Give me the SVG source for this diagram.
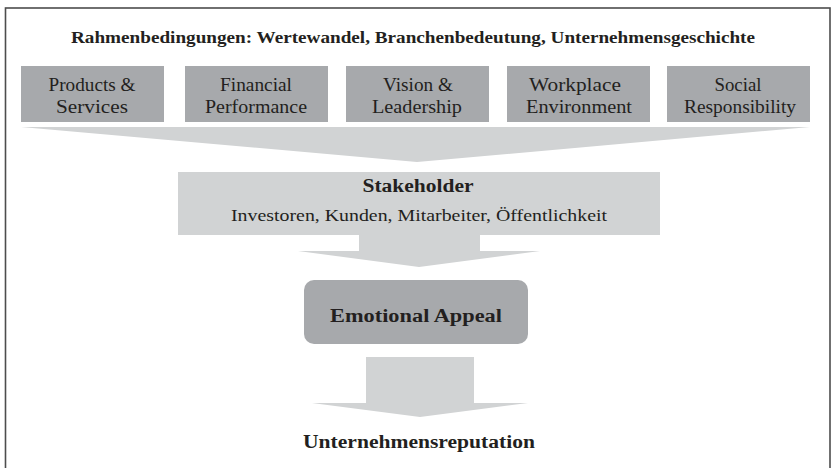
<svg xmlns="http://www.w3.org/2000/svg" width="832" height="468" viewBox="0 0 832 468">
  <style>
    .frame { fill: #ffffff; stroke: #4d4d4d; stroke-width: 1.6; }
    .card { fill: #a7a9ac; }
    .flow { fill: #d1d3d4; }
    .t { fill: #231f20; text-anchor: middle; }
    .b { font-weight: bold; }
    .lbl { font-size: 18px; }
  </style>

  <!-- outer frame (open at the bottom edge) -->
  <rect class="frame" x="5.5" y="8" width="824.5" height="470"/>

  <g font-family="Liberation Serif, DejaVu Serif, serif">
  <!-- title -->
  <text class="t b" x="413" y="43" font-size="16.5" textLength="684" lengthAdjust="spacingAndGlyphs">Rahmenbedingungen: Wertewandel, Branchenbedeutung, Unternehmensgeschichte</text>

  <!-- connectors: funnel and block arrows -->
  <g id="connectors">
    <polygon class="flow" points="21,127 810,127 417,162"/>
    <polygon class="flow" points="359,235 480,235 480,251 540,251 419,267 298,251 359,251"/>
    <polygon class="flow" points="366,357 474,357 474,403 528,403 420,417 312,403 366,403"/>
  </g>

  <!-- reputation drivers -->
  <g id="products">
    <rect class="card" x="21" y="66" width="143" height="56"/>
    <text class="t lbl" x="92" y="91" textLength="87" lengthAdjust="spacingAndGlyphs">Products &amp;</text>
    <text class="t lbl" x="92" y="113" textLength="72" lengthAdjust="spacingAndGlyphs">Services</text>
  </g>
  <g id="financial">
    <rect class="card" x="185" y="66" width="143" height="56"/>
    <text class="t lbl" x="256" y="91" textLength="72" lengthAdjust="spacingAndGlyphs">Financial</text>
    <text class="t lbl" x="256" y="113" textLength="102" lengthAdjust="spacingAndGlyphs">Performance</text>
  </g>
  <g id="vision">
    <rect class="card" x="346" y="66" width="143" height="56"/>
    <text class="t lbl" x="418" y="91" textLength="70" lengthAdjust="spacingAndGlyphs">Vision &amp;</text>
    <text class="t lbl" x="417" y="113" textLength="90" lengthAdjust="spacingAndGlyphs">Leadership</text>
  </g>
  <g id="workplace">
    <rect class="card" x="507" y="66" width="143" height="56"/>
    <text class="t lbl" x="575" y="91" textLength="92" lengthAdjust="spacingAndGlyphs">Workplace</text>
    <text class="t lbl" x="579" y="113" textLength="106" lengthAdjust="spacingAndGlyphs">Environment</text>
  </g>
  <g id="social">
    <rect class="card" x="667" y="66" width="143" height="56"/>
    <text class="t lbl" x="738" y="91" textLength="47" lengthAdjust="spacingAndGlyphs">Social</text>
    <text class="t lbl" x="740" y="113" textLength="112" lengthAdjust="spacingAndGlyphs">Responsibility</text>
  </g>

  <!-- stakeholder band -->
  <g id="stakeholder">
    <rect class="flow" x="178" y="172" width="482" height="63"/>
    <text class="t b" x="418" y="192" font-size="18" textLength="111" lengthAdjust="spacingAndGlyphs">Stakeholder</text>
    <text class="t" x="419" y="221" font-size="17" textLength="376" lengthAdjust="spacingAndGlyphs">Investoren, Kunden, Mitarbeiter, Öffentlichkeit</text>
  </g>

  <!-- emotional appeal -->
  <g id="emotional">
    <rect class="card" x="304" y="280" width="224" height="64" rx="10" ry="10"/>
    <text class="t b" x="416" y="322" font-size="18" textLength="172" lengthAdjust="spacingAndGlyphs">Emotional Appeal</text>
  </g>

  <!-- outcome -->
  <g id="reputation">
    <text class="t b" x="419" y="448" font-size="18" textLength="232" lengthAdjust="spacingAndGlyphs">Unternehmensreputation</text>
  </g>
  </g>
</svg>
